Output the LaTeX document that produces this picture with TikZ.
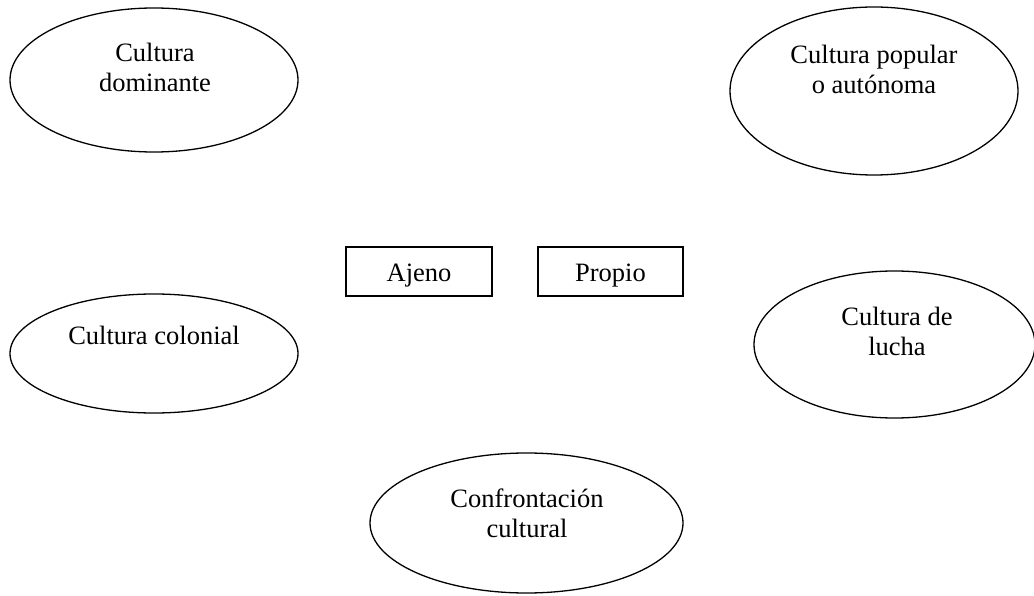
\documentclass[tikz,border=0pt]{standalone}
\usepackage{fontspec}
\setmainfont{Liberation Serif}
\usetikzlibrary{shapes.geometric}
\begin{document}
\begin{tikzpicture}[x=1pt,y=-1pt,
  oval/.style={draw=black,line width=1.3pt,ellipse,inner sep=0pt,outer sep=0pt},
  boxnode/.style={draw=black,line width=1.3pt,rectangle,inner sep=0pt,outer sep=0pt,
     minimum height=49pt,text height=21pt,text depth=0pt,font=\fontsize{26.5}{30}\selectfont},
  txt/.style={align=center,anchor=base,inner sep=0pt,font=\fontsize{26.5}{30}\selectfont}]
\useasboundingbox[fill=white] (0,0) rectangle (1034,596);
% ellipses
\node[oval,minimum width=288pt,minimum height=144pt] (dom) at (154,80) {};
\node[oval,minimum width=288pt,minimum height=168pt] (pop) at (874,91) {};
\node[oval,minimum width=288pt,minimum height=119pt] (col) at (154,353.5) {};
\node[oval,minimum width=281pt,minimum height=147pt] (luc) at (894.5,344.5) {};
\node[oval,minimum width=313pt,minimum height=140pt] (con) at (526.5,523) {};
% boxes
\node[boxnode,minimum width=146pt] (aje) at (419,271.5) {Ajeno};
\node[boxnode,minimum width=145pt] (pro) at (610.5,271.5) {Propio};
% texts (anchor base = baseline of the last line)
\node[txt] (domt) at (155,92) {Cultura\\dominante};
\node[txt] (popt) at (874,94) {Cultura popular\\o autónoma};
\node[txt] (colt) at (154,344) {Cultura colonial};
\node[txt] (luct) at (897,355) {Cultura de\\lucha};
\node[txt] (cont) at (527,537) {Confrontación\\cultural};
\end{tikzpicture}
\end{document}
